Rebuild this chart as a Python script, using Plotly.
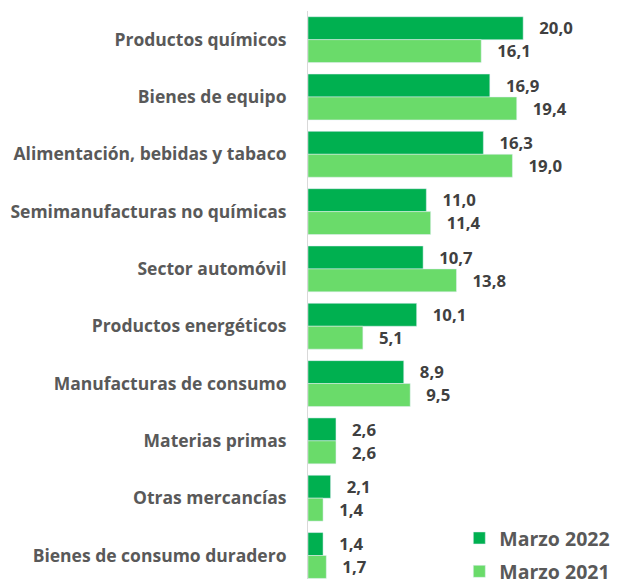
import plotly.graph_objects as go

categories = [
    "Productos químicos",
    "Bienes de equipo",
    "Alimentación, bebidas y tabaco",
    "Semimanufacturas no químicas",
    "Sector automóvil",
    "Productos energéticos",
    "Manufacturas de consumo",
    "Materias primas",
    "Otras mercancías",
    "Bienes de consumo duradero",
]
marzo_2022 = [20.0, 16.9, 16.3, 11.0, 10.7, 10.1, 8.9, 2.6, 2.1, 1.4]
marzo_2021 = [16.1, 19.4, 19.0, 11.4, 13.8, 5.1, 9.5, 2.6, 1.4, 1.7]

def fmt(v):
    return "\u00a0\u00a0\u00a0" + f"{v:.1f}".replace(".", ",")

label_font = dict(family="Open Sans", size=19, color="#404040", weight="bold")

fig = go.Figure()
fig.add_trace(go.Bar(
    y=categories, x=marzo_2022, orientation="h", name="Marzo 2022",
    legendgroup="a",
    marker=dict(color="#00B050"),
    text=[fmt(v) for v in marzo_2022], textposition="outside",
    textfont=label_font, cliponaxis=False,
))
fig.add_trace(go.Bar(
    y=categories, x=marzo_2021, orientation="h", name="Marzo 2021",
    legendgroup="b",
    marker=dict(color="#6ADB6A"),
    text=[fmt(v) for v in marzo_2021], textposition="outside",
    textfont=label_font, cliponaxis=False,
))

fig.update_layout(
    width=612, height=571,
    margin=dict(l=300, r=0, t=3, b=0, autoexpand=False),
    paper_bgcolor="white", plot_bgcolor="white",
    barmode="group", bargap=0.2, bargroupgap=0,
    font=dict(family="Open Sans", color="#595959"),
    showlegend=True,
    legend=dict(
        x=0.485, y=0.106, xanchor="left", yanchor="top",
        font=dict(family="Open Sans", size=19.5, color="#595959", weight="bold"),
        bgcolor="rgba(0,0,0,0)", tracegroupgap=5,
    ),
)
fig.update_xaxes(range=[0, 29], visible=False, showgrid=False, zeroline=False,
                 automargin=False)
fig.update_yaxes(
    categoryorder="array", categoryarray=categories,
    range=[9.41, -0.5], automargin=False,
    showline=True, linecolor="#D9D9D9", linewidth=1,
    ticks="", ticklabelstandoff=17,
    tickfont=dict(family="Open Sans", size=17.5, color="#595959", weight="bold"),
    showgrid=False, zeroline=False,
)

fig.write_html("out.html")
